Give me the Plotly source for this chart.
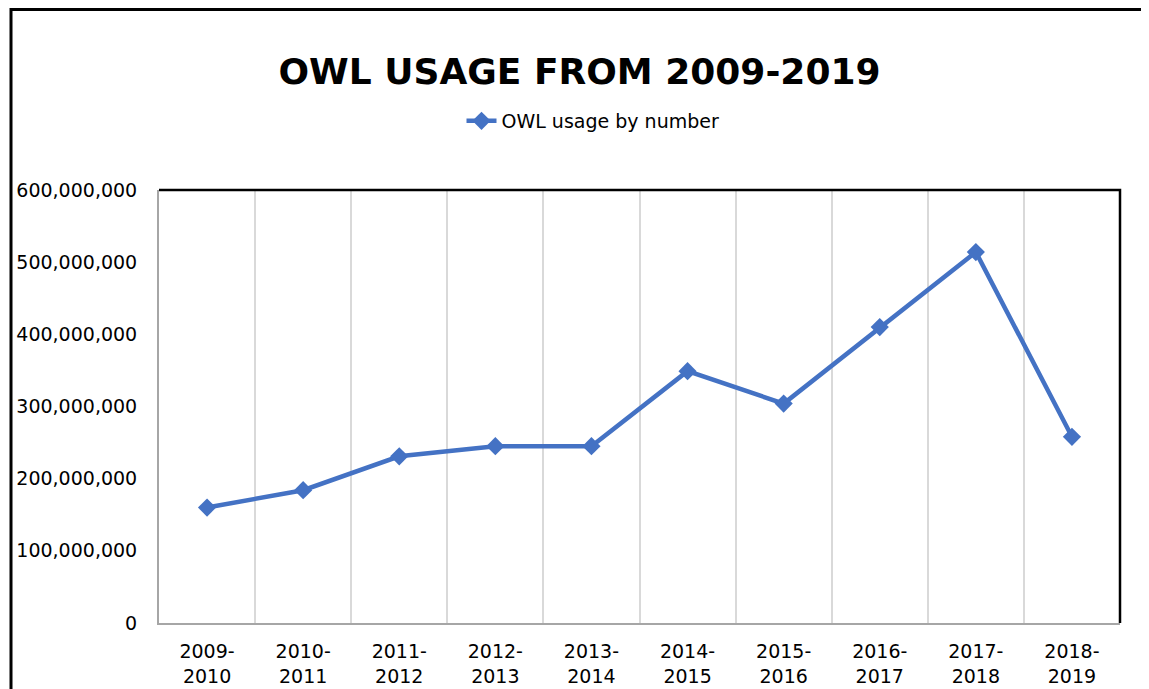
import plotly.graph_objects as go

categories = ["2009-2010", "2010-2011", "2011-2012", "2012-2013", "2013-2014",
              "2014-2015", "2015-2016", "2016-2017", "2017-2018", "2018-2019"]
usage = [160_000_000, 184_000_000, 231_000_000, 245_000_000, 245_000_000,
         349_000_000, 304_000_000, 410_000_000, 514_000_000, 258_000_000]
tick_labels = [c.replace("-", "-<br>") for c in categories]
y_ticks = [0, 100_000_000, 200_000_000, 300_000_000, 400_000_000, 500_000_000, 600_000_000]

# the page body adds an 8px offset, so the figure is laid out in shifted pixels
OFF = 8
W, H = 1149 - OFF, 689 - OFF
ML, MR, MT, MB = 159 - OFF, 29, 190 - OFF, 66
pw = W - ML - MR
ph = H - MT - MB

def px_x(x):
    return (x - OFF - ML) / pw

def px_y(y):
    return 1 + (MT - (y - OFF)) / ph

xs = list(range(len(categories)))

fig = go.Figure()
fig.add_trace(go.Scatter(
    x=xs, y=usage, mode="lines+markers", name="OWL usage by number",
    line=dict(color="#4472C4", width=4.5),
    marker=dict(symbol="diamond", size=14, color="#4472C4"),
))

font_family = "DejaVu Sans"

fig.update_layout(
    width=W, height=H,
    margin=dict(l=ML, r=MR, t=MT, b=MB, pad=0, autoexpand=False),
    paper_bgcolor="white", plot_bgcolor="white",
    font=dict(family=font_family, color="#000000", size=19),
    title=dict(text="<b>OWL USAGE FROM 2009-2019</b>",
               x=(579.5 - OFF) / W, xanchor="center", xref="container",
               y=1 - (71.5 - OFF) / H, yanchor="middle", yref="container",
               font=dict(family=font_family, size=36, color="#000000")),
    showlegend=True,
    legend=dict(orientation="h", x=px_x(593), xanchor="center",
                y=px_y(121), yanchor="middle",
                font=dict(family=font_family, size=19, color="#000000"),
                bgcolor="rgba(0,0,0,0)"),
    xaxis=dict(range=[-0.5, len(categories) - 0.5], tickmode="array",
               tickvals=xs, ticktext=tick_labels, showgrid=False,
               zeroline=False, showline=True, linecolor="#A6A6A6", linewidth=2,
               ticks="", tickangle=0, automargin=False,
               tickfont=dict(family=font_family, size=19, color="#000000"),
               ticklabelstandoff=10,
               minor=dict(tick0=0.5, dtick=1, showgrid=True, gridcolor="#D9D9D9",
                          gridwidth=2, ticks="")),
    yaxis=dict(range=[0, 600_000_000], tickmode="array", tickvals=y_ticks,
               tickformat=",d", showgrid=False, zeroline=False, showline=True,
               linecolor="#A6A6A6", linewidth=2, ticks="", automargin=False,
               tickfont=dict(family=font_family, size=19, color="#000000"),
               ticklabelstandoff=16),
    shapes=[
        # plot-area top and right border
        dict(type="path", xref="paper", yref="paper",
             path="M 0 1 L 1 1 L 1 0",
             line=dict(color="#000000", width=2.5), layer="above"),
        # outer chart border (left and top)
        dict(type="path", xref="paper", yref="paper",
             path=f"M {px_x(11)} {px_y(720)} L {px_x(11)} {px_y(9.5)} L {px_x(1160)} {px_y(9.5)}",
             line=dict(color="#000000", width=3), layer="above"),
    ],
)

fig.write_html("out.html")
